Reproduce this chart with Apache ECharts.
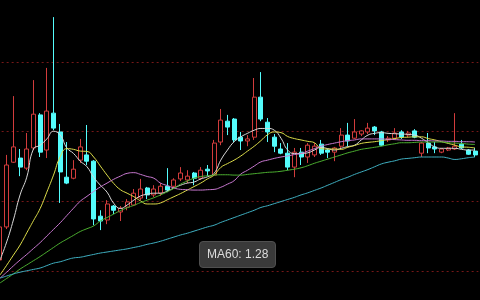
<!DOCTYPE html>
<html>
<head>
<meta charset="utf-8">
<script src="https://cdn.jsdelivr.net/npm/echarts@6/dist/echarts.min.js"></script>
<style>
html,body{margin:0;padding:0;background:#000;}
#c{width:480px;height:300px;}
</style>
</head>
<body>
<div id="c"></div>
<script>
// ---- data ----
var categories = [];
for (var k = 1; k <= 72; k++) { categories.push('D' + k); }

var opens  = [1.231,1.326,1.512,1.524,1.495,1.553,1.648,1.547,1.653,1.599,1.469,1.466,1.518,1.533,1.515,1.357,1.346,1.386,1.369,1.383,1.389,1.409,1.438,1.418,1.423,1.443,1.443,1.464,1.461,1.481,1.466,1.492,1.475,1.570,1.630,1.636,1.584,1.573,1.584,1.699,1.627,1.584,1.550,1.538,1.498,1.541,1.527,1.533,1.564,1.547,1.541,1.558,1.590,1.581,1.593,1.599,1.613,1.599,1.576,1.581,1.599,1.590,1.602,1.538,1.567,1.556,1.541,1.547,1.550,1.564,1.547,1.544];
var closes = [1.326,1.504,1.556,1.498,1.550,1.650,1.541,1.659,1.610,1.484,1.452,1.492,1.556,1.515,1.349,1.343,1.392,1.374,1.380,1.398,1.423,1.435,1.418,1.435,1.443,1.432,1.461,1.481,1.472,1.466,1.489,1.487,1.567,1.633,1.613,1.576,1.573,1.579,1.699,1.636,1.599,1.558,1.538,1.498,1.541,1.527,1.561,1.558,1.538,1.541,1.553,1.590,1.573,1.599,1.602,1.610,1.602,1.561,1.581,1.596,1.584,1.596,1.584,1.567,1.553,1.550,1.550,1.553,1.558,1.553,1.535,1.533];
var lows   = [1.214,1.320,1.510,1.472,1.489,1.547,1.527,1.524,1.604,1.395,1.449,1.463,1.510,1.504,1.331,1.317,1.334,1.363,1.343,1.374,1.386,1.403,1.406,1.412,1.415,1.426,1.438,1.458,1.452,1.446,1.461,1.472,1.472,1.561,1.590,1.570,1.547,1.558,1.576,1.630,1.570,1.541,1.535,1.489,1.469,1.504,1.510,1.527,1.533,1.524,1.515,1.553,1.558,1.579,1.587,1.593,1.590,1.558,1.570,1.576,1.579,1.584,1.581,1.527,1.538,1.538,1.538,1.544,1.547,1.550,1.533,1.527];
var highs  = [1.334,1.533,1.702,1.550,1.596,1.748,1.653,1.783,1.929,1.622,1.570,1.518,1.579,1.619,1.518,1.374,1.403,1.389,1.386,1.406,1.435,1.464,1.441,1.446,1.452,1.495,1.466,1.498,1.489,1.484,1.498,1.504,1.576,1.665,1.648,1.639,1.599,1.590,1.754,1.771,1.639,1.593,1.567,1.567,1.553,1.553,1.567,1.567,1.576,1.550,1.556,1.610,1.625,1.636,1.604,1.625,1.616,1.602,1.587,1.610,1.604,1.602,1.607,1.570,1.596,1.570,1.553,1.556,1.653,1.576,1.550,1.553];

var ma5  = [1.231,1.283,1.346,1.418,1.469,1.550,1.561,1.579,1.601,1.590,1.553,1.537,1.515,1.499,1.469,1.446,1.426,1.394,1.379,1.389,1.403,1.415,1.420,1.423,1.423,1.429,1.438,1.446,1.452,1.455,1.464,1.470,1.480,1.518,1.547,1.571,1.585,1.595,1.604,1.609,1.609,1.604,1.581,1.547,1.537,1.537,1.539,1.547,1.555,1.551,1.547,1.552,1.557,1.561,1.576,1.590,1.595,1.597,1.595,1.594,1.593,1.592,1.590,1.581,1.568,1.556,1.552,1.552,1.552,1.549,1.547,1.547];
var ma10 = [1.188,1.216,1.245,1.274,1.309,1.344,1.379,1.426,1.475,1.528,1.551,1.549,1.544,1.543,1.527,1.501,1.475,1.451,1.433,1.423,1.413,1.401,1.392,1.392,1.395,1.404,1.413,1.422,1.432,1.442,1.452,1.464,1.475,1.497,1.508,1.518,1.530,1.544,1.558,1.574,1.591,1.599,1.597,1.586,1.580,1.576,1.572,1.568,1.551,1.550,1.550,1.549,1.555,1.560,1.566,1.569,1.571,1.574,1.577,1.580,1.583,1.584,1.585,1.585,1.580,1.576,1.571,1.566,1.561,1.556,1.555,1.553];
var ma20 = [1.179,1.196,1.214,1.231,1.247,1.264,1.281,1.300,1.319,1.338,1.359,1.380,1.400,1.414,1.428,1.441,1.452,1.463,1.472,1.480,1.482,1.477,1.471,1.466,1.452,1.445,1.438,1.434,1.433,1.432,1.432,1.433,1.434,1.440,1.449,1.459,1.478,1.489,1.501,1.513,1.518,1.523,1.527,1.530,1.534,1.537,1.544,1.551,1.558,1.563,1.567,1.571,1.574,1.576,1.579,1.579,1.579,1.579,1.578,1.577,1.576,1.575,1.575,1.574,1.574,1.573,1.573,1.572,1.572,1.571,1.571,1.570];
var ma30 = [1.165,1.178,1.191,1.205,1.217,1.229,1.241,1.254,1.267,1.280,1.291,1.302,1.313,1.321,1.329,1.343,1.353,1.363,1.373,1.381,1.388,1.396,1.403,1.410,1.418,1.427,1.437,1.449,1.458,1.466,1.471,1.473,1.475,1.476,1.476,1.475,1.475,1.477,1.479,1.481,1.483,1.484,1.486,1.489,1.492,1.496,1.502,1.509,1.515,1.521,1.527,1.533,1.539,1.544,1.549,1.552,1.555,1.558,1.562,1.565,1.568,1.568,1.569,1.570,1.570,1.570,1.570,1.568,1.567,1.566,1.564,1.563];
var ma60 = [1.179,1.185,1.191,1.196,1.200,1.204,1.208,1.215,1.222,1.226,1.232,1.237,1.239,1.243,1.247,1.251,1.254,1.257,1.260,1.263,1.267,1.271,1.276,1.280,1.285,1.291,1.297,1.303,1.308,1.314,1.320,1.326,1.331,1.339,1.346,1.353,1.360,1.367,1.374,1.382,1.387,1.393,1.399,1.405,1.411,1.418,1.424,1.431,1.438,1.446,1.454,1.462,1.469,1.477,1.484,1.491,1.499,1.507,1.512,1.516,1.521,1.523,1.525,1.527,1.527,1.527,1.527,1.524,1.520,1.522,1.525,1.527];

var tipIndex = 23;

// ---- chart ----
var kdata = [];
for (var i = 0; i < categories.length; i++) {
  kdata.push([opens[i], closes[i], lows[i], highs[i]]);
}
function maLine(name, data, color) {
  return {
    name: name, type: 'line', data: data, smooth: true, showSymbol: false,
    symbol: 'none', lineStyle: { color: color, width: 1 }, itemStyle: { color: color },
    emphasis: { disabled: true }, z: 3
  };
}
var chart = echarts.init(document.getElementById('c'), null, { renderer: 'canvas' });
chart.setOption({
  backgroundColor: '#000',
  animation: false,
  grid: { left: -3.35, top: -7.6, width: 481.7, height: 348, containLabel: false, outerBoundsMode: 'none' },
  tooltip: {
    trigger: 'axis',
    axisPointer: { type: 'none' },
    triggerOn: 'none',
    alwaysShowContent: true,
    transitionDuration: 0,
    position: [199, 241],
    backgroundColor: '#3a3a3a',
    borderColor: '#505050',
    borderWidth: 1,
    padding: [5, 7],
    textStyle: { color: '#dcdcdc', fontSize: 12, fontFamily: 'Liberation Sans, Arial, sans-serif' },
    extraCssText: 'box-shadow:none;border-radius:4px;line-height:15px;',
    formatter: function (params) {
      for (var j = 0; j < params.length; j++) {
        if (params[j].seriesName === 'MA60') {
          return 'MA60: ' + Number(params[j].value).toFixed(2);
        }
      }
      return '';
    }
  },
  xAxis: {
    type: 'category', data: categories, boundaryGap: true,
    axisLine: { show: false }, axisTick: { show: false }, axisLabel: { show: false },
    splitLine: { show: false }
  },
  yAxis: {
    type: 'value', min: 1.0, max: 2.0, interval: 0.2,
    axisLine: { show: false }, axisTick: { show: false }, axisLabel: { show: false },
    splitLine: { show: true, lineStyle: { color: '#761818', type: [2, 3], width: 1 } }
  },
  series: [
    {
      name: 'K', type: 'candlestick', data: kdata, barWidth: 4.5,
      itemStyle: {
        color: '#000', color0: '#54fcfc',
        borderColor: '#d23c3c', borderColor0: '#54fcfc', borderWidth: 1
      },
      emphasis: { disabled: true }, z: 2
    },
    maLine('MA5', ma5, '#d8d8d8'),
    maLine('MA10', ma10, '#dede4a'),
    maLine('MA20', ma20, '#c878d0'),
    maLine('MA30', ma30, '#4cb030'),
    maLine('MA60', ma60, '#3fb0c2')
  ]
});
chart.dispatchAction({ type: 'showTip', seriesIndex: 5, dataIndex: tipIndex });
</script>
</body>
</html>
